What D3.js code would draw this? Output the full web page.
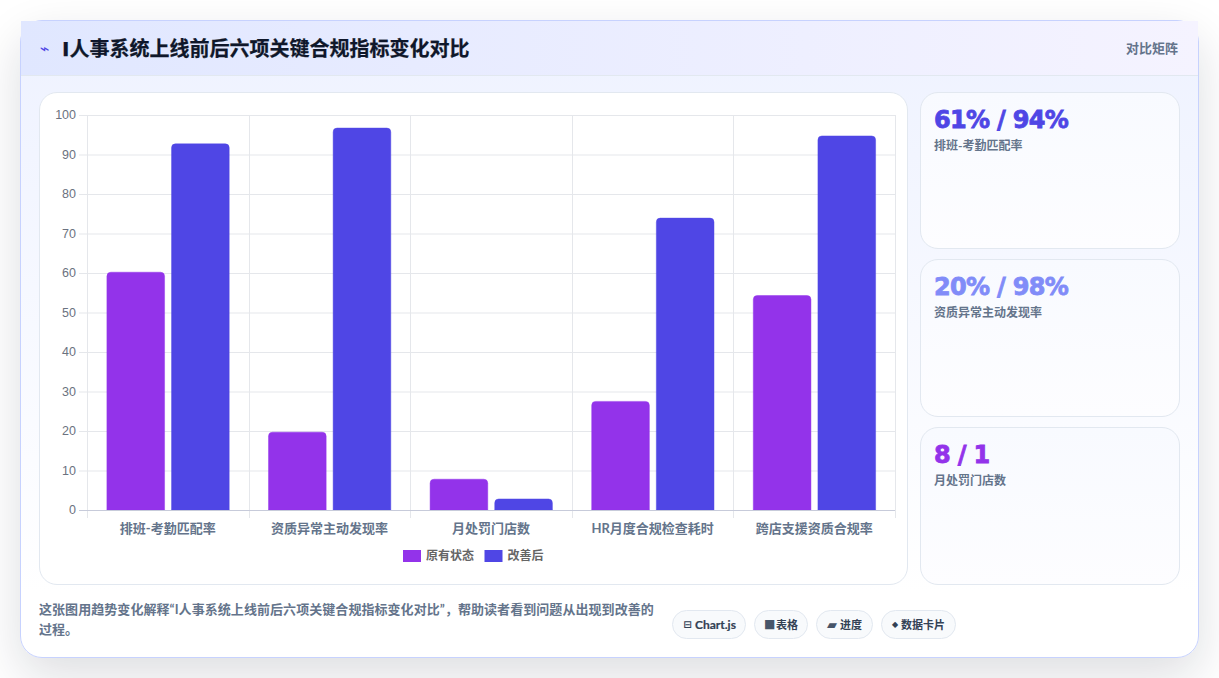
<!DOCTYPE html>
<html lang="zh-CN">
<head>
<meta charset="utf-8">
<title>人事系统指标对比</title>
<script src="https://cdn.jsdelivr.net/npm/d3@7/dist/d3.min.js"></script>
<style>
  * { box-sizing: border-box; margin: 0; padding: 0; }
  html, body { width: 1219px; height: 678px; overflow: hidden; background: #fff; }
  body { font-family: Lato, "Noto Sans CJK SC", sans-serif; position: relative; }
  .card {
    position: absolute; left: 20px; top: 20px; width: 1179px; height: 638px;
    border: 1px solid #c7d2fe; border-radius: 22px;
    background: linear-gradient(180deg, #eef2ff 0%, #ffffff 90%);
    box-shadow: 0 18px 48px rgba(15, 23, 42, 0.14);
  }
  .header {
    position: absolute; left: 0; top: 0; right: 0; height: 55px;
    background: linear-gradient(90deg, #e0e7ff 0%, #f5f3ff 100%);
    border-bottom: 1px solid #e2e8f0;
  }
  .title {
    position: absolute; left: 41px; top: 13px; font-family: "DejaVu Sans", "Noto Sans CJK SC", sans-serif;
    font-size: 20px; font-weight: 700; -webkit-text-stroke: 0.25px #0f172a;
    line-height: 30px; color: #0f172a; white-space: nowrap;
  }
  .title .bolt { color: #4f46e5; font-size: 16px; font-weight: 400; -webkit-text-stroke: 0; position: absolute; left: -22px; top: 0; }
  .kind { position: absolute; right: 20px; top: 18px; font-size: 13px; line-height: 19px; font-weight: 700; color: #64748b; }
  .panel {
    position: absolute; left: 18px; top: 71px; width: 869px; height: 493px;
    background: #fff; border: 1px solid #e2e8f0; border-radius: 18px;
  }
  .stat {
    position: absolute; left: 899px; width: 260px;
    background: linear-gradient(180deg, #f8faff 0%, #fdfdff 100%);
    border: 1px solid #e2e8f0; border-radius: 18px; padding: 0 13px;
  }
  .stat b {
    display: block; margin-top: 10px; font-family: "DejaVu Sans", sans-serif; font-size: 24px; font-weight: 700;
    letter-spacing: -0.7px; -webkit-text-stroke: 0.8px currentColor; line-height: 34px;
  }
  .stat span { display: block; font-size: 12px; font-weight: 700; line-height: 18px; color: #64748b; }
  .note {
    position: absolute; left: 18px; top: 578px; width: 622px; font-size: 13px; font-weight: 700;
    letter-spacing: 0.06px; line-height: 20px; color: #64748b;
  }
  .chips { position: absolute; left: 651px; top: 589px; display: flex; gap: 8px; }
  .chip {
    height: 29px; padding: 0 10px; border: 1px solid #e2e8f0; border-radius: 15px; background: #f8fafc;
    font-size: 11px; font-weight: 700; line-height: 27px; color: #334155; white-space: nowrap; display: flex;
  }
  .chip i { font-style: normal; font-family: "DejaVu Sans", sans-serif; text-align: center; margin-right: 3px; overflow: visible; }
  .chip:nth-child(1) { padding-right: 9px; }
  .chip:nth-child(1) i { width: 9px; font-size: 10px; }
  .chip:nth-child(1) span { font-size: 12px; -webkit-text-stroke: 0.2px #334155; }
  .chip:nth-child(2) { padding: 0 9px; }
  .chip:nth-child(2) i { width: 9px; font-size: 12px; color: #475569; }
  .chip:nth-child(3) i { width: 10px; font-size: 13px; color: #475569; }
  .chip:nth-child(4) i { width: 6px; font-size: 8px; }
  svg { position: absolute; left: 0; top: 0; }
  svg text { font-family: Lato, "Noto Sans CJK SC", sans-serif; }
</style>
</head>
<body>
<div class="card" id="card"></div>
<svg id="chart" width="1219" height="678"></svg>
<script>
// Chart content
const chartTitle = "I人事系统上线前后六项关键合规指标变化对比";
const chartKind = "对比矩阵";
const categories = ["排班-考勤匹配率", "资质异常主动发现率", "月处罚门店数", "HR月度合规检查耗时", "跨店支援资质合规率"];
const seriesNames = ["原有状态", "改善后"];
const seriesColors = ["#9333ea", "#4f46e5"];
const beforeValues = [60.2, 19.7, 7.8, 27.5, 54.3];
const afterValues = [92.7, 96.7, 2.8, 73.9, 94.7];
const yTicks = [0, 10, 20, 30, 40, 50, 60, 70, 80, 90, 100];
const statValues = ["61% / 94%", "20% / 98%", "8 / 1"];
const statLabels = ["排班-考勤匹配率", "资质异常主动发现率", "月处罚门店数"];
const statColors = ["#4f46e5", "#818cf8", "#9333ea"];
const statTops = [71, 238, 406];
const statHeights = [157, 158, 158];
const noteText = "这张图用趋势变化解释“I人事系统上线前后六项关键合规指标变化对比”，帮助读者看到问题从出现到改善的过程。";
const chipIcons = ["⊟", "■", "▰", "◆"];
const chipLabels = ["Chart.js", "表格", "进度", "数据卡片"];

// Page frame
const card = d3.select("#card");
const header = card.append("div").attr("class", "header");
const title = header.append("div").attr("class", "title").text(chartTitle);
title.append("span").attr("class", "bolt").text("⌁");
header.append("div").attr("class", "kind").text(chartKind);
card.append("div").attr("class", "panel");

card.selectAll("div.stat").data(statValues).join("div")
  .attr("class", "stat")
  .style("top", (d, i) => statTops[i] + "px")
  .style("height", (d, i) => statHeights[i] + "px")
  .each(function (d, i) {
    const s = d3.select(this);
    s.append("b").style("color", statColors[i]).text(d);
    s.append("span").text(statLabels[i]);
  });

card.append("div").attr("class", "note").text(noteText);
const chips = card.append("div").attr("class", "chips")
  .selectAll("div").data(chipLabels).join("div").attr("class", "chip");
chips.append("i").text((d, i) => chipIcons[i]);
chips.append("span").text(d => d);

// Scales
const plot = { left: 87, right: 895, top: 115, bottom: 510 };
const x = d3.scaleBand().domain(categories).range([plot.left, plot.right]);
const xInner = d3.scaleBand().domain(seriesNames)
  .range([0, x.bandwidth() * 0.8]).paddingInner(0.1).paddingOuter(0.05);
const y = d3.scaleLinear().domain([0, 100]).range([plot.bottom, plot.top]);

const svg = d3.select("#chart");
const grid = "#e5e7eb";

// Horizontal grid with tick stubs and value labels
const yAxis = svg.append("g").attr("transform", `translate(${plot.left},0)`)
  .call(d3.axisLeft(y).tickValues(yTicks).tickSize(8).tickPadding(3).tickSizeOuter(0));
yAxis.select(".domain").attr("stroke", grid);
yAxis.selectAll(".tick line").attr("stroke", grid);
yAxis.selectAll(".tick text")
  .attr("fill", "#6b7280").attr("dy", "0.3em")
  .style("font-family", "Liberation Sans, sans-serif").style("font-size", "12.5px");
svg.append("g").selectAll("line").data(yTicks.filter(t => t > 0)).join("line")
  .attr("x1", plot.left).attr("x2", plot.right)
  .attr("y1", d => y(d) + 0.5).attr("y2", d => y(d) + 0.5)
  .attr("stroke", grid);

// Vertical grid between categories
const xEdges = categories.map(c => x(c)).concat(plot.right);
svg.append("g").selectAll("line").data(xEdges).join("line")
  .attr("x1", d => Math.round(d) + 0.5).attr("x2", d => Math.round(d) + 0.5)
  .attr("y1", plot.top).attr("y2", plot.bottom + 8)
  .attr("stroke", grid);

// Rounded-top bar path built from the scales
const barPath = (x0, w, v) => {
  const top = y(v), r = Math.min(4, (plot.bottom - top) / 2), p = d3.path();
  p.moveTo(x0, plot.bottom);
  p.lineTo(x0, top + r);
  p.quadraticCurveTo(x0, top, x0 + r, top);
  p.lineTo(x0 + w - r, top);
  p.quadraticCurveTo(x0 + w, top, x0 + w, top + r);
  p.lineTo(x0 + w, plot.bottom);
  p.closePath();
  return p.toString();
};

const groups = svg.append("g").selectAll("g").data(categories).join("g")
  .attr("transform", d => `translate(${x(d) + x.bandwidth() * 0.1 + 0.5},0)`);
seriesNames.forEach((name, s) => {
  const values = s === 0 ? beforeValues : afterValues;
  groups.append("path")
    .attr("d", (d, i) => barPath(xInner(name), xInner.bandwidth() - 0.5, values[i]))
    .attr("fill", seriesColors[s])
    .attr("stroke", seriesColors[s]).attr("stroke-opacity", 0.45).attr("stroke-width", 1);
});

// Baseline
svg.append("line")
  .attr("x1", plot.left - 8).attr("x2", plot.right)
  .attr("y1", plot.bottom + 0.5).attr("y2", plot.bottom + 0.5)
  .attr("stroke", "#c7cbda");

// Category labels
svg.append("g").selectAll("text").data(categories).join("text")
  .attr("x", d => x(d) + x.bandwidth() / 2)
  .attr("y", 533)
  .attr("text-anchor", "middle")
  .attr("fill", "#64748b")
  .attr("font-size", 13)
  .attr("font-weight", 700)
  .text(d => d);

// Legend
const legendX = [403, 484.5];
const legend = svg.append("g").selectAll("g").data(seriesNames).join("g")
  .attr("transform", (d, i) => `translate(${legendX[i]},550)`);
legend.append("rect").attr("width", 18).attr("height", 12)
  .attr("fill", (d, i) => seriesColors[i]);
legend.append("text").attr("x", 23).attr("y", 9.5)
  .attr("fill", "#666").attr("font-size", 12).attr("font-weight", 700)
  .text(d => d);
</script>
</body>
</html>
